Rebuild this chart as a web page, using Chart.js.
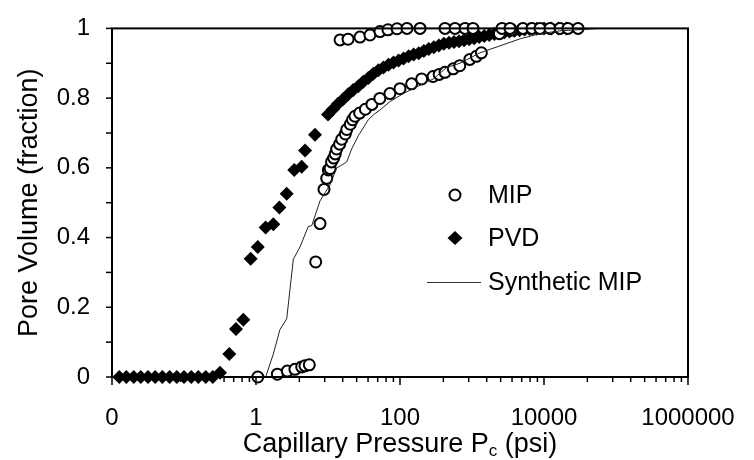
<!DOCTYPE html>
<html>
<head>
<meta charset="utf-8">
<script src="https://cdn.jsdelivr.net/npm/chart.js@4.4.1/dist/chart.umd.min.js"></script>
<style>
  html, body { margin: 0; padding: 0; background: #ffffff; }
  #caja { width: 754px; height: 460px; }
</style>
</head>
<body>
<div id="caja"><canvas id="grafico"></canvas></div>
<script>
// ejes: valores de las marcas principales y sus textos
const xTickValues = [0.01, 1, 100, 10000, 1000000];
const xTickLabels = ['0', '1', '100', '10000', '1000000'];
const yTickValues = [0, 0.2, 0.4, 0.6, 0.8, 1];
const yTickLabels = ['0', '0.2', '0.4', '0.6', '0.8', '1'];

// MIP (circulos)
const mipPressure = [1.06, 1.98, 2.72, 3.47, 4.31, 4.79, 5.5, 6.75, 7.75, 8.8, 9.6, 10.1, 10.7, 11.2, 12.0, 12.6, 13.2, 14.5, 15.5, 17.4,
  18.2, 20.4, 21.9, 23.7, 27.5, 33, 40.7, 52.5, 72.4, 100, 145, 200, 288, 350, 422, 550, 676, 933, 1150, 1350, 2400, 3500,
  14.7, 19, 27.8, 38.3, 52.7, 68, 91, 125, 190, 422, 581, 800, 1033, 2610, 3370, 5100, 6810, 8800, 12100, 16700, 21500, 29700];
const mipVolume = [0, 0.008, 0.017, 0.022, 0.029, 0.032, 0.035, 0.33, 0.44, 0.538, 0.57, 0.594, 0.598, 0.617, 0.628, 0.64, 0.654, 0.668, 0.682, 0.697,
  0.71, 0.725, 0.738, 0.748, 0.757, 0.768, 0.782, 0.799, 0.813, 0.827, 0.841, 0.855, 0.862, 0.868, 0.874, 0.884, 0.893, 0.911, 0.92, 0.93, 0.985, 0.995,
  0.967, 0.969, 0.975, 0.981, 0.991, 0.996, 0.999, 1, 1, 1, 1, 1, 1, 1, 1, 1, 1, 1, 1, 1, 1, 1];

// PVD (rombos)
const pvdPressure = [0.0126, 0.0158, 0.02, 0.0251, 0.0316, 0.0398, 0.0501, 0.0631, 0.0794, 0.1, 0.126, 0.158, 0.2, 0.251, 0.316,
  0.426, 0.527, 0.667, 0.843, 1.057, 1.36, 1.74, 2.11, 2.67, 3.40, 4.31, 4.8, 6.6, 10,
  11.7, 13.8, 16.2, 19.1, 22.4, 26.3, 30.9, 36.3, 42.7, 50.1, 58.9, 69.2, 81.3, 95.5, 112, 132, 155, 182, 214, 251,
  295, 347, 407, 479, 562, 661, 776, 912, 1072, 1259, 1479, 1738, 2042, 2399, 2818, 3311, 3890, 4571, 5370, 6310,
  7943, 10000, 12589, 15849, 20417];
const pvdVolume = [0, 0, 0, 0, 0, 0, 0, 0, 0, 0, 0, 0, 0, 0, 0.012,
  0.066, 0.138, 0.164, 0.339, 0.373, 0.429, 0.438, 0.486, 0.526, 0.594, 0.603, 0.65, 0.695, 0.753,
  0.768, 0.784, 0.797, 0.811, 0.823, 0.834, 0.847, 0.858, 0.870, 0.880, 0.888, 0.896, 0.902, 0.908, 0.914, 0.920, 0.925, 0.929, 0.935, 0.941,
  0.946, 0.951, 0.956, 0.959, 0.961, 0.963, 0.966, 0.969, 0.972, 0.975, 0.978, 0.981, 0.984, 0.987, 0.989, 0.991, 0.993, 0.995, 0.997, 0.998,
  0.999, 1, 1, 1, 1];

// Synthetic MIP (linea)
const synPressure = [1.36, 1.74, 2.15, 2.67, 3.30, 4.08, 5.33, 5.94, 7.74, 10.7, 13.2, 14.7, 18.2, 21.3, 26.4, 36.3, 42.6, 52.7, 72.6,
  111, 190, 290, 446, 681, 1290, 2450, 4640, 8790, 16700, 60000];
const synVolume = [0, 0.066, 0.136, 0.167, 0.338, 0.373, 0.432, 0.434, 0.505, 0.552, 0.600, 0.605, 0.617, 0.654, 0.692, 0.738, 0.752, 0.766, 0.79,
  0.813, 0.837, 0.855, 0.888, 0.90, 0.93, 0.95, 0.97, 0.985, 0.993, 1.0];

const FUENTE = "'Liberation Sans', Arial, sans-serif";

function pares(xs, ys) {
    return xs.map((x, i) => ({ x: x, y: ys[i] }));
}

function esMayor(v) {
    return xTickValues.some(m => Math.abs(Math.log10(m) - Math.log10(v)) < 1e-6);
}

// marcas de los ejes, caja, titulos y leyenda
const extras = {
    id: 'extras',
    afterDraw(chart) {
        const ctx = chart.ctx;
        const a = chart.chartArea;
        const xs = chart.scales.x;
        const ys = chart.scales.y;
        ctx.save();
        ctx.strokeStyle = '#000';
        ctx.fillStyle = '#000';

        ctx.lineWidth = 1.5;
        xs.ticks.forEach(t => {
            const px = xs.getPixelForValue(t.value);
            const largo = esMayor(t.value) ? 8 : 5;
            ctx.beginPath();
            ctx.moveTo(px, a.bottom);
            ctx.lineTo(px, a.bottom + largo);
            ctx.stroke();
        });
        ys.ticks.forEach(t => {
            const py = ys.getPixelForValue(t.value);
            ctx.beginPath();
            ctx.moveTo(a.left - 6, py);
            ctx.lineTo(a.left, py);
            ctx.stroke();
        });

        ctx.lineWidth = 2;
        ctx.strokeRect(a.left, a.top, a.right - a.left, a.bottom - a.top);

        // titulo eje y
        ctx.font = '27px ' + FUENTE;
        ctx.textAlign = 'center';
        ctx.textBaseline = 'middle';
        ctx.save();
        ctx.translate(30, (a.top + a.bottom) / 2);
        ctx.rotate(-Math.PI / 2);
        ctx.fillText('Pore Volume (fraction)', 0, 0);
        ctx.restore();

        // titulo eje x con subindice
        const t1 = 'Capillary Pressure P', t2 = 'c', t3 = ' (psi)';
        ctx.textAlign = 'left';
        ctx.textBaseline = 'alphabetic';
        ctx.font = '27px ' + FUENTE;
        const w1 = ctx.measureText(t1).width;
        const w3 = ctx.measureText(t3).width;
        ctx.font = '17px ' + FUENTE;
        const w2 = ctx.measureText(t2).width;
        let x0 = (a.left + a.right) / 2 - (w1 + w2 + w3) / 2;
        const base = 452;
        ctx.font = '27px ' + FUENTE;
        ctx.fillText(t1, x0, base);
        ctx.font = '17px ' + FUENTE;
        ctx.fillText(t2, x0 + w1, base + 4);
        ctx.font = '27px ' + FUENTE;
        ctx.fillText(t3, x0 + w1 + w2, base);

        // leyenda
        const filas = [195, 238, 282];
        const mx = 455, tx = 488;
        ctx.font = '25px ' + FUENTE;
        ctx.textBaseline = 'middle';
        chart.data.datasets.forEach((d, i) => {
            const y = filas[i];
            if (d.pointStyle === 'circle') {
                ctx.beginPath();
                ctx.arc(mx, y, 5.5, 0, Math.PI * 2);
                ctx.fillStyle = '#fff';
                ctx.fill();
                ctx.lineWidth = 2;
                ctx.stroke();
            } else if (d.pointStyle === 'rectRot') {
                ctx.beginPath();
                ctx.moveTo(mx, y - 7);
                ctx.lineTo(mx + 7.5, y);
                ctx.lineTo(mx, y + 7);
                ctx.lineTo(mx - 7.5, y);
                ctx.closePath();
                ctx.fillStyle = '#000';
                ctx.fill();
            } else {
                ctx.beginPath();
                ctx.lineWidth = 1;
                ctx.strokeStyle = '#333';
                ctx.moveTo(427, y + 0.5);
                ctx.lineTo(481, y + 0.5);
                ctx.stroke();
                ctx.strokeStyle = '#000';
            }
            ctx.fillStyle = '#000';
            ctx.fillText(d.label, tx, y + 1);
        });
        ctx.restore();
    }
};

function grafico() {
    const ctx = document.getElementById('grafico');
    Chart.defaults.font.family = FUENTE;
    Chart.defaults.color = '#000';

    new Chart(ctx, {
        type: 'scatter',
        data: {
            datasets: [{
                label: 'MIP',
                data: pares(mipPressure, mipVolume),
                pointStyle: 'circle',
                pointRadius: 5.5,
                borderWidth: 2,
                borderColor: '#000',
                backgroundColor: '#fff',
                clip: false,
                order: 1
            }, {
                label: 'PVD',
                data: pares(pvdPressure, pvdVolume),
                pointStyle: 'rectRot',
                pointRadius: 7,
                borderWidth: 0,
                borderColor: '#000',
                backgroundColor: '#000',
                clip: false,
                order: 2
            }, {
                label: 'Synthetic MIP',
                data: pares(synPressure, synVolume),
                showLine: true,
                pointRadius: 0,
                borderWidth: 1,
                borderColor: '#222',
                backgroundColor: '#222',
                tension: 0,
                clip: false,
                order: 0
            }]
        },
        options: {
            responsive: true,
            maintainAspectRatio: false,
            animation: false,
            layout: { padding: { left: 0, top: 20, right: 66, bottom: 0 } },
            plugins: {
                legend: { display: false },
                tooltip: { enabled: false }
            },
            scales: {
                x: {
                    type: 'logarithmic',
                    min: 0.01,
                    max: 1000000,
                    grid: { display: false },
                    border: { display: false },
                    afterBuildTicks: (s) => {
                        const t = [];
                        for (let i = 0; i < xTickValues.length; i++) {
                            t.push({ value: xTickValues[i] });
                            if (i < xTickValues.length - 1) {
                                for (let k = 2; k <= 9; k++) t.push({ value: xTickValues[i] * k * k });
                            }
                        }
                        s.ticks = t;
                    },
                    afterFit: (s) => { s.height = 83; },
                    ticks: {
                        autoSkip: false,
                        maxRotation: 0,
                        padding: 19,
                        font: { size: 24 },
                        callback: (v) => {
                            const i = xTickValues.findIndex(m => Math.abs(Math.log10(m) - Math.log10(v)) < 1e-6);
                            return i >= 0 ? xTickLabels[i] : '';
                        }
                    }
                },
                y: {
                    min: 0,
                    max: 1,
                    grid: { display: false },
                    border: { display: false },
                    afterBuildTicks: (s) => {
                        const t = [];
                        for (let i = 0; i < yTickValues.length; i++) {
                            t.push({ value: yTickValues[i] });
                            if (i < yTickValues.length - 1) t.push({ value: (yTickValues[i] + yTickValues[i + 1]) / 2 });
                        }
                        s.ticks = t;
                    },
                    afterFit: (s) => { s.width = 112; },
                    ticks: {
                        autoSkip: false,
                        padding: 14,
                        font: { size: 24 },
                        callback: (v) => {
                            const i = yTickValues.findIndex(m => Math.abs(m - v) < 1e-6);
                            return i >= 0 ? yTickLabels[i] : '';
                        }
                    }
                }
            }
        },
        plugins: [extras]
    });
}

grafico();
</script>
</body>
</html>
